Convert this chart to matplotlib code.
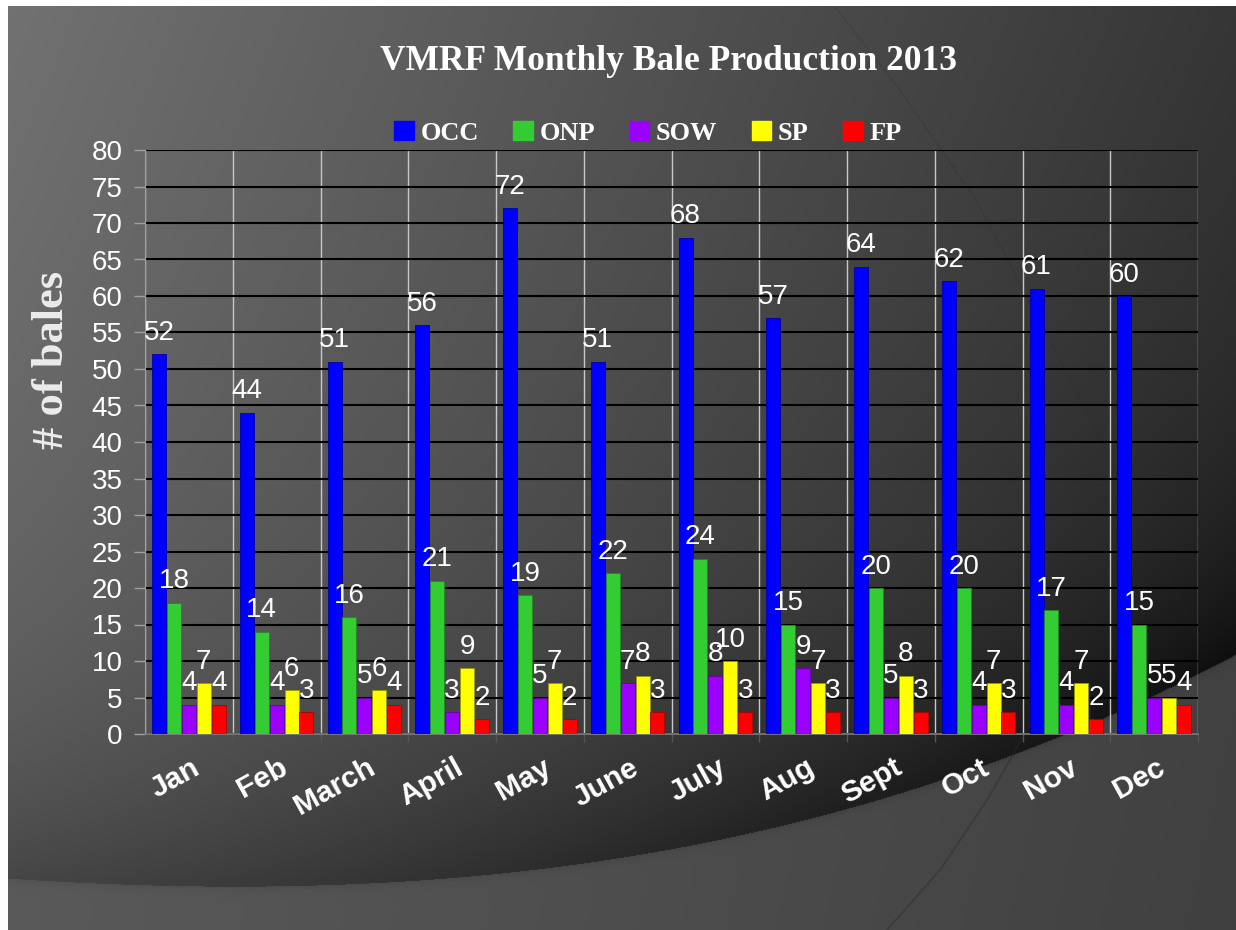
import numpy as np
import matplotlib
matplotlib.use("Agg")
import matplotlib.pyplot as plt
from matplotlib.patches import Patch
import matplotlib.transforms as mtransforms

# ---------------- data ----------------
months = ["Jan", "Feb", "March", "April", "May", "June", "July", "Aug",
          "Sept", "Oct", "Nov", "Dec"]
occ = [52, 44, 51, 56, 72, 51, 68, 57, 64, 62, 61, 60]
onp = [18, 14, 16, 21, 19, 22, 24, 15, 20, 20, 17, 15]
sow = [4, 4, 5, 3, 5, 7, 8, 9, 5, 4, 4, 5]
sp = [7, 6, 6, 9, 7, 8, 10, 7, 8, 7, 7, 5]
fp = [4, 3, 4, 2, 2, 3, 3, 3, 3, 3, 2, 4]
series_names = ["OCC", "ONP", "SOW", "SP", "FP"]
yticks = list(range(0, 81, 5))

series_values = [occ, onp, sow, sp, fp]
series_colors = ["#0000FF", "#33CC33", "#9900FF", "#FFFF00", "#FF0000"]
edge_colors = ["#0000AA", "#228822", "#6600AA", "#999900", "#AA0000"]

W, H = 1236, 930
fig = plt.figure(figsize=(W / 100, H / 100), dpi=100)

# ---------------- slide background ----------------
bg = fig.add_axes([0, 0, 1, 1])
bg.axis("off")
yy, xx = np.mgrid[0:H, 0:W].astype(float)
base = 114 - 0.048 * xx - 0.018 * yy
cx = np.array([0, 150, 300, 500, 700, 800, 900, 1000, 1236])
cy = np.array([879, 883, 884, 874, 850, 817, 790, 760, 655])
coef = np.polyfit(cx / 1000.0, cy, 3)
ycurve = np.polyval(coef, xx[0] / 1000.0)
yc = ycurve[None, :] * np.ones_like(yy)
d = yc - yy
above = base - 28 * np.exp(-np.clip(d, 0, None) / 160.0)
below = 90 - 0.02 * xx - 0.005 * (yy - yc)
below = below - 8 * np.exp(-np.clip(-d, 0, None) / 4.0)
val = np.where(d > 0, above, below)
val = np.clip(val, 0, 255) / 255.0
img = np.dstack([val, val, val])
img[:7, :, :] = 1.0
img[:, :8, :] = 1.0
bg.imshow(img, extent=(0, W, H, 0), aspect="auto", interpolation="bilinear")
# faint arcs
bg.plot([835, 900, 976, 1060, 1140, 1200], [7, 90, 200, 360, 520, 640],
        color="#2a2a2a", lw=1.0, alpha=0.2)
bg.plot([1050, 1010, 987, 940, 887], [690, 760, 800, 870, 930],
        color="#2a2a2a", lw=1.5, alpha=0.35)
bg.set_xlim(0, W)
bg.set_ylim(H, 0)

# ---------------- chart ----------------
left, right, top, bottom = 145, 1198, 150, 734
ax = fig.add_axes([left / W, (H - bottom) / H, (right - left) / W, (bottom - top) / H])
ax.patch.set_alpha(0)

x = np.arange(len(months))
bw = 0.17
for i, (vals, col, ec) in enumerate(zip(series_values, series_colors, edge_colors)):
    pos = x + (i - 2) * bw
    ax.bar(pos, vals, width=bw * 0.94, color=col, edgecolor=ec, linewidth=0.6, zorder=3)
    for px, v in zip(pos, vals):
        ax.annotate(str(v), (px, v), xytext=(0, 6), textcoords="offset points",
                    ha="center", va="bottom", fontsize=20, color="white",
                    family="Liberation Sans", zorder=4)

ax.set_xlim(-0.5, 11.5)
ax.set_ylim(0, 80)
ax.set_yticks(yticks)
ax.set_yticklabels([str(t) for t in yticks], fontsize=20, color="white",
                   family="Liberation Sans")
ax.yaxis.grid(True, color="black", lw=1.5, zorder=1)
ax.set_xticks(x)
ax.set_xticks(np.arange(-0.5, 12, 1), minor=True)
ax.xaxis.grid(True, which="minor", color="#c8c8c8", lw=1, zorder=1)
ax.xaxis.grid(False, which="major")
ax.tick_params(axis="x", which="major", length=0, pad=14)
ax.tick_params(axis="x", which="minor", length=6, color="#555555", width=1)
ax.tick_params(axis="y", length=8, color="#a0a0a0", width=1, pad=8)
ax.set_xticklabels(months, rotation=29, ha="right", va="top", rotation_mode="anchor",
                   fontsize=21.5, fontweight="bold", color="white", family="Liberation Sans")
offset = mtransforms.ScaledTranslation(2 / 100, 0, fig.dpi_scale_trans)
for lab in ax.get_xticklabels():
    lab.set_transform(lab.get_transform() + offset)
for s in ["top", "right"]:
    ax.spines[s].set_visible(False)
ax.spines["left"].set_color("#a0a0a0")
ax.spines["bottom"].set_color("#808080")
ax.spines["bottom"].set_linewidth(1.2)

# title, y label, legend
fig.text(669 / W, 1 - 62 / H, "VMRF Monthly Bale Production 2013", ha="center", va="center",
         fontsize=25.5, fontweight="bold", color="white", family="Liberation Serif")
fig.text(52 / W, 1 - 360 / H, "# of bales", ha="center", va="center", rotation=90,
         fontsize=32, fontweight="bold", color="#ececec", family="Liberation Serif")
handles = [Patch(facecolor=c, edgecolor=c) for c in series_colors]
fig.legend(handles, series_names, loc="center", bbox_to_anchor=(648 / W, 1 - 133 / H),
           ncol=5, frameon=False, handlelength=0.75, handleheight=0.75,
           handletextpad=0.25, columnspacing=1.3, labelcolor="white",
           prop={"family": "Liberation Serif", "weight": "bold", "size": 19})

fig.savefig("out.png", dpi=100)
